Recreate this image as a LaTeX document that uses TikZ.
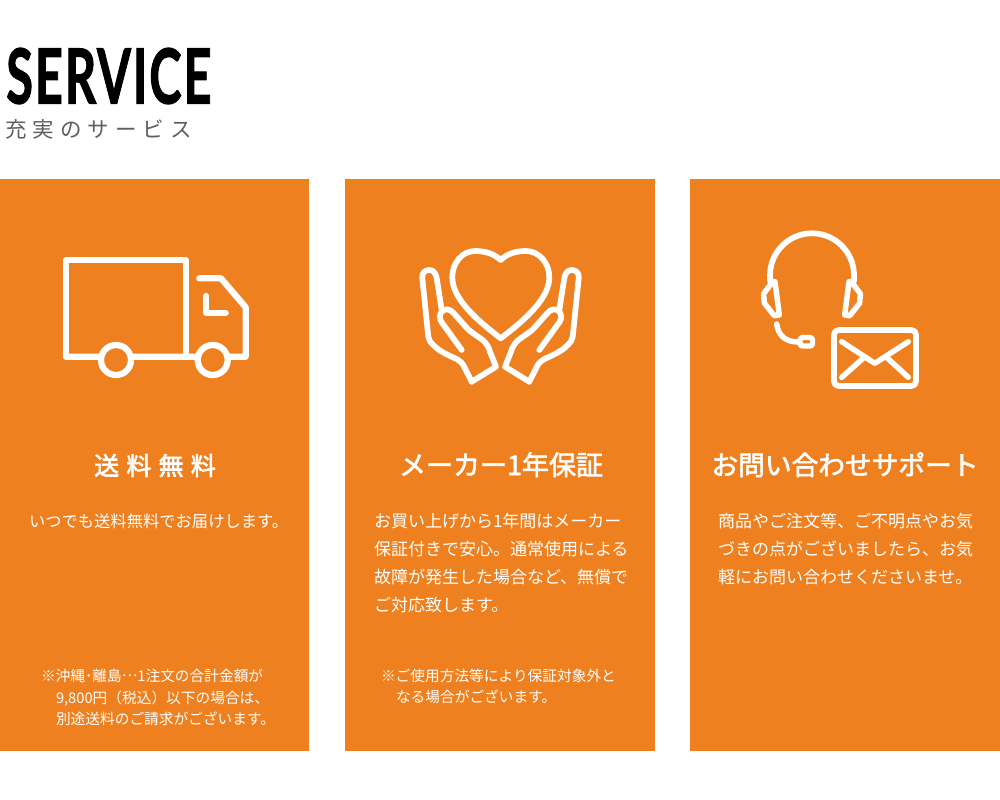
\documentclass[tikz,border=0pt]{standalone}
\usepackage{fontspec}
\usepackage{graphicx}
\setmainfont{Noto Sans CJK JP}
\newfontfamily\headfont{Lato}[LetterSpace=4]
\newfontfamily\titlefont{Noto Sans CJK JP}
\newfontfamily\titlefontwide{Noto Sans CJK JP}[LetterSpace=29]
\newfontfamily\subfont{Noto Sans CJK JP}[LetterSpace=28]
\definecolor{panelorange}{HTML}{EF8020}
\definecolor{subgrey}{HTML}{5E5E5E}
\newcommand{\fpx}[1]{\pgfmathsetmacro\tmpfs{#1*0.75}\fontsize{\tmpfs pt}{\tmpfs pt}\selectfont}
\newcommand{\heavier}[1]{\special{pdf:code 2 Tr 0.45 w 1 1 1 RG}#1\special{pdf:code 0 Tr}}
\newcommand{\heavierblack}[1]{\special{pdf:code 2 Tr 0.9 w 0 0 0 RG}#1\special{pdf:code 0 Tr}}
\tikzset{
  x=0.75pt,y=-0.75pt,
  panel/.style={fill=panelorange,draw=none},
  icon/.style={draw=white,line width=4.3pt,line cap=round,line join=round},
  thinicon/.style={icon,line width=4.1pt},
  truckicon/.style={icon,line width=4.7pt},
  txt/.style={inner sep=0pt,outer sep=0pt,text=white,anchor=base west},
  titletxt/.style={inner sep=0pt,outer sep=0pt,text=white,anchor=base},
  bodytxt/.style={txt,font=\fpx{17}},
  bodysmalltxt/.style={txt,font=\fpx{16.3}},
  notetxt/.style={txt,font=\fpx{14.7}},
}
\newcommand{\handshape}{
  \draw[icon] (471.7,381.7) -- (463.3,365) .. controls (459,359) and (455,358.5) .. (450,356)
    .. controls (443,352.5) and (438,350) .. (433.3,345) .. controls (430,342) and (429,340) .. (428.3,336.7)
    -- (422.3,278.3) .. controls (421.5,273) and (425,270) .. (429.3,270) .. controls (433.5,270) and (436,273.5) .. (436.7,278.3)
    -- (441.7,310);
  \draw[icon] (461.7,350) -- (441.5,322) .. controls (437,315) and (442,309) .. (447,309.3)
    .. controls (450,309.5) and (452,311) .. (454,313.5) -- (466,327)
    .. controls (471,333) and (478,336) .. (483.3,340.5) .. controls (487,344) and (489,348) .. (490,351.7)
    -- (496,366.7) -- (471.7,381.7);
}
\newcommand{\cupshape}{
  \draw[thinicon] (775,281.7) -- (772.5,281.7) -- (763.5,294) -- (764.5,303.3) -- (774.3,315.7) -- (779.3,315) -- cycle;
}
\begin{document}
\begin{tikzpicture}
\useasboundingbox (0,0) rectangle (1000,800);
\fill[white] (0,0) rectangle (1000,800);
% panels
\fill[panel] (0,179) rectangle (309,751);
\fill[panel] (345,179) rectangle (655,751);
\fill[panel] (690,179) rectangle (1000,751);
% heading
\node[inner sep=0pt,anchor=base west,text=black] (head) at (6,103.5)
  {\scalebox{0.641}[1]{\headfont\fpx{76}\bfseries\heavierblack{SERVICE}}};
\node[inner sep=0pt,anchor=base west,text=subgrey] (sub) at (5,137)
  {\subfont\fpx{21.5}充実のサービス};
% truck
\draw[truckicon] (66,356.7) -- (66,260.3) -- (185.7,260.3) -- (185.7,356.7);
\draw[truckicon] (66,356.7) -- (245.7,356.7) -- (245.7,307.3) -- (221,278.3) -- (199.3,278.3);
\draw[truckicon] (206.3,296) -- (206.3,313) -- (225.7,313);
\draw[truckicon,fill=panelorange] (116,360) circle (15);
\draw[truckicon,fill=panelorange] (212.7,360) circle (15);
% heart and hands
\draw[icon] (500.7,260) .. controls (494,254) and (486,251) .. (475,251)
  .. controls (462,251) and (452.3,263) .. (452.3,277)
  .. controls (452.3,296) and (470,315) .. (500.7,338.3)
  .. controls (531.4,315) and (549.3,296) .. (549.3,277)
  .. controls (549.3,263) and (539,251) .. (526,251)
  .. controls (515,251) and (507,254) .. cycle;
\handshape
\begin{scope}[shift={(1001,0)},xscale=-1]
\handshape
\end{scope}
% headset
\draw[icon] (770,281) -- (770,275.3) arc (180:360:42) -- (854,281);
\cupshape
\begin{scope}[shift={(1624,0)},xscale=-1]
\cupshape
\end{scope}
\draw[thinicon] (776.7,324) .. controls (778,334) and (784,342) .. (798.3,342);
\draw[thinicon,rounded corners=2pt] (800,337.5) rectangle (812.5,346);
\draw[icon,rounded corners=3.5pt] (834,330) rectangle (916,386);
\draw[thinicon] (841.7,341.7) -- (874.8,363.3) -- (908.3,341.7);
\draw[thinicon] (841.7,377.3) -- (864,357.5);
\draw[thinicon] (908.3,377.3) -- (886.7,357.5);
% titles
\node[titletxt,font=\titlefontwide\fpx{25}] (t1) at (155,475) {\heavier{送料無料}};
\node[titletxt,font=\titlefont\fpx{27}] (t2) at (501,475) {\heavier{メーカー1年保証}};
\node[titletxt,font=\titlefont\fpx{26.7}] (t3) at (845,475) {\heavier{お問い合わせサポート}};
% body 1
\node[bodysmalltxt] (b11) at (29,527) {いつでも送料無料でお届けします。};
% body 2
\node[bodytxt] (b21) at (374,527) {お買い上げから1年間はメーカー};
\node[bodytxt] (b22) at (374,555) {保証付きで安心。通常使用による};
\node[bodytxt] (b23) at (374,583) {故障が発生した場合など、無償で};
\node[bodytxt] (b24) at (374,611) {ご対応致します。};
% body 3
\node[bodytxt] (b31) at (718,527) {商品やご注文等、ご不明点やお気};
\node[bodytxt] (b32) at (718,555) {づきの点がございましたら、お気};
\node[bodytxt] (b33) at (718,583) {軽にお問い合わせくださいませ。};
% notes
\node[notetxt] (n11) at (41,681) {※沖縄･離島\raisebox{0.3em}{…}1注文の合計金額が};
\node[notetxt] (n12) at (56,703) {9,800円（税込）以下の場合は、};
\node[notetxt] (n13) at (56,724) {別途送料のご請求がございます。};
\node[notetxt] (n21) at (381,681) {※ご使用方法等により保証対象外と};
\node[notetxt] (n22) at (396,702) {なる場合がございます。};
\end{tikzpicture}
\end{document}
